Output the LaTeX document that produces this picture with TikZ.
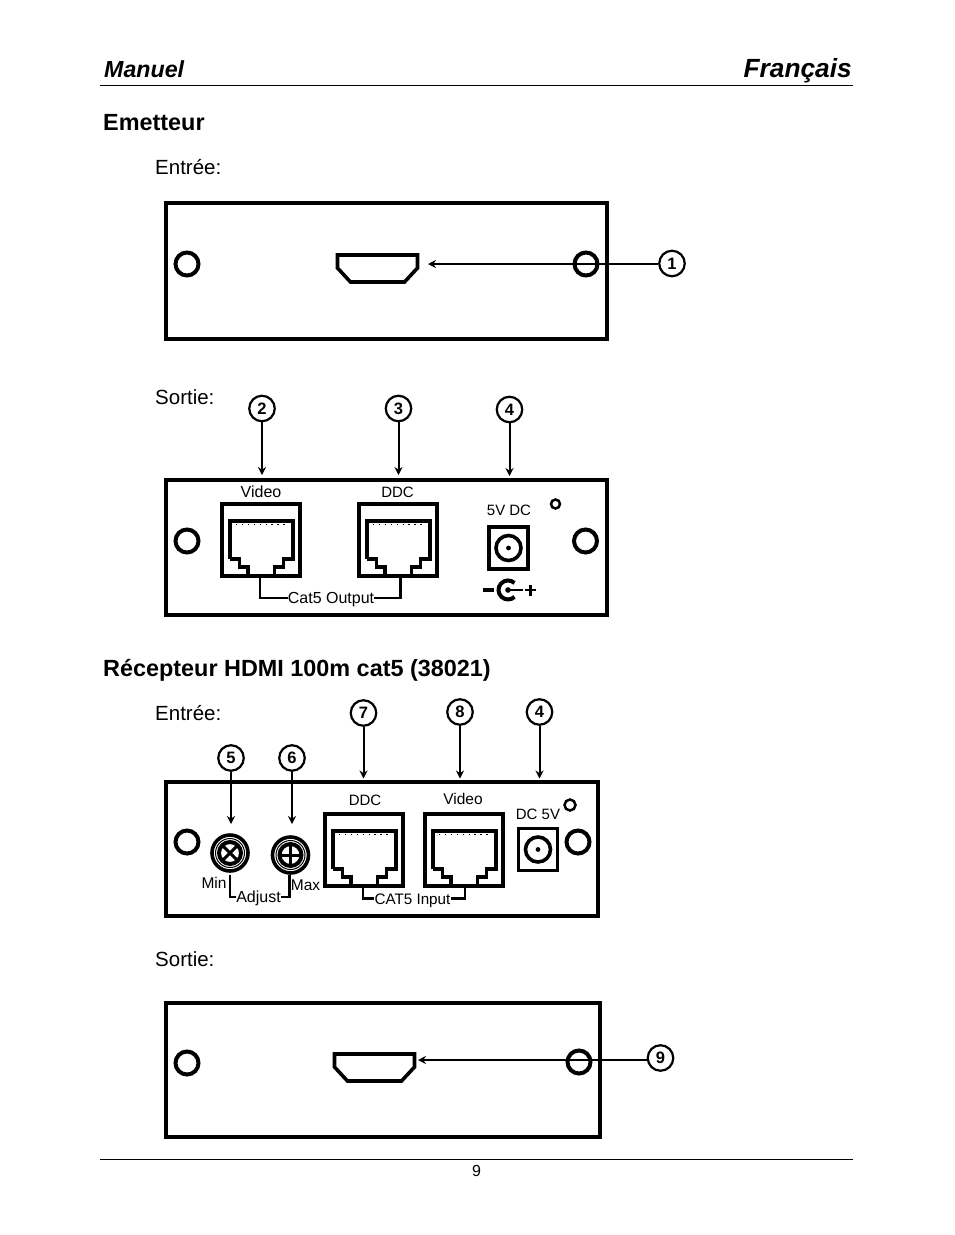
\documentclass[tikz,border=0pt]{standalone}
\usepackage{fontspec}
\setmainfont{Liberation Sans}
\usetikzlibrary{arrows.meta,calc}
\newcommand{\fsz}[1]{\fontsize{#1}{#1}\selectfont}
\tikzset{
 x=1pt,y=-1pt,
 panel/.style={draw=black,line width=4pt,fill=white,inner sep=0pt,outer sep=0pt},
 hole/.style={circle,draw=black,line width=4pt,fill=white,minimum size=23pt,inner sep=0pt},
 led/.style={circle,draw=black,line width=2.5pt,fill=white,inner sep=0pt},
 callout/.style={circle,draw=black,line width=2.2pt,fill=white,minimum size=25.5pt,inner sep=0pt,font=\fsz{16.5}\bfseries},
 arrowline/.style={line width=2pt,-{Stealth[length=8pt,width=8pt]}},
 body/.style={inner sep=0pt,anchor=base west,font=\fsz{20.5}},
 head/.style={inner sep=0pt,anchor=base west,font=\fsz{23.4}\bfseries},
 lab/.style={inner sep=0pt,font=\fsz{16}},
 brlab/.style={lab,text height=11.5pt,text depth=0pt},
 rjbox/.style={draw=black,line width=4pt,fill=white,inner sep=0pt,minimum width=78pt,minimum height=72pt},
 brk/.style={line width=2.6pt,line cap=butt},
 jackbox/.style={draw=black,line width=3.8pt,fill=white,inner sep=0pt,minimum width=39pt,minimum height=42pt},
 hdmi/.style={line width=3.6pt,line join=miter},
}
% name, x left, y top of the stroke-centre box
\newcommand{\rjfort}[3]{%
 \node[rjbox] (#1) at (#2+39,#3+36) {};
 \begin{scope}[shift={(#2,#3)}]
  \draw[line width=3.8pt,line join=miter] (8,55) -- (8,17) -- (71,17) -- (71,55) -- (61.5,55) -- (61.5,63) -- (52.5,63) -- (52.5,72)
     (8,55) -- (17.5,55) -- (17.5,63) -- (26,63) -- (26,72);
  \draw[line width=1.2pt,dash pattern=on 1.4pt off 4.5pt] (14,20.8) -- (66,20.8);
 \end{scope}}
% name, x, y: jack centre
\newcommand{\jackdc}[3]{%
 \node[jackbox] (#1) at (#2,#3) {};
 \draw[line width=3.6pt,fill=white] (#2,#3) circle[radius=12.5];
 \fill (#2,#3) circle[radius=2.4];}
% name, x, y, x and y offset of the arrow tip
\newcommand{\hdmiport}[5]{%
 \begin{scope}[shift={(#2,#3)}]
  \draw[hdmi] (0,0) -- (80,0) -- (80,13) -- (67,27) -- (13,27) -- (0,13) -- cycle;
  \coordinate (#1) at (#4,#5);
 \end{scope}}
\newcommand{\knob}[2]{%
 \draw[line width=3.6pt,fill=white] (#1) circle[radius=18];
 \draw[line width=1pt] (#1) circle[radius=14.5];
 \draw[line width=4pt,fill=white] (#1) circle[radius=11];
 \begin{scope}[shift={(#1)},rotate=#2]
  \draw[line width=3pt] (-10,0) -- (10,0) (0,-10) -- (0,10);
 \end{scope}}
\begin{document}
\begin{tikzpicture}
\useasboundingbox (0,0) rectangle (954,1235);
\fill[white] (0,0) rectangle (954,1235);

% page header and footer
\node[inner sep=0pt,anchor=base west,font=\fsz{23.2}\bfseries\itshape] (manuel) at (104,77) {Manuel};
\node[inner sep=0pt,anchor=base east,font=\fsz{26.3}\bfseries\itshape] (fr) at (852,77) {Français};
\coordinate (hl) at (100,85.5); \coordinate (hr) at (853,85.5);
\draw[line width=1pt] (hl) -- (hr);
\coordinate (fl) at (100,1159.5); \coordinate (fr2) at (853,1159.5);
\draw[line width=1pt] (fl) -- (fr2);
\node[inner sep=0pt,anchor=base,font=\fsz{16}] (pg) at (476.5,1176) {9};

\node[head] (h1) at (103,130) {Emetteur};
\node[body] (t1) at (155,174) {Entrée:};
\node[body] (t2) at (155,404) {Sortie:};
\node[head] (h2) at (103,676) {Récepteur HDMI 100m cat5 (38021)};
\node[body] (t3) at (155,720) {Entrée:};
\node[body] (t4) at (155,966) {Sortie:};

% panel 1
\node[panel,minimum width=441pt,minimum height=136pt] (p1) at (386.5,271) {};
\node[hole] (p1a) at (187,264) {};
\node[hole] (p1b) at (586,264) {};
\hdmiport{h1p}{337.5}{255}{90.5}{9}
\node[callout] (c1) at (672,263.5) {1};
\coordinate (s1) at (h1p -| c1.west);
\draw[arrowline] (s1) -- (h1p);

% panel 2
\node[panel,minimum width=441pt,minimum height=135pt] (p2) at (386.5,547.5) {};
\node[hole] (p2a) at (187,541) {};
\node[hole] (p2b) at (585.5,541) {};
\rjfort{vid}{222}{504}
\rjfort{ddc}{359}{504}
\node[lab] (vidl) at (261,491.5) {Video};
\node[lab,font=\fsz{15}] (ddcl) at (397.5,492.5) {DDC};
\node[lab,font=\fsz{15}] (dcl) at (509,510) {5V DC};
\node[led,minimum size=9pt] (l2) at (555.5,504) {};
\jackdc{j2}{508.5}{548}
\node[brlab] (cat) at (331,598) {Cat5 Output};
\coordinate (b1) at (260,578); \coordinate (b2) at (400.5,578);
\draw[brk] (cat.west) -| (b1);
\draw[brk] (cat.east) -| (b2);
% polarity symbol
\coordinate (sym) at (508,590);
\draw[line width=3.4pt] ($(sym)+(-25,0)$) -- ($(sym)+(-14,0)$);
\draw[line width=4pt] ($(sym)+(6.5,-7)$) arc[start angle=-47,end angle=-313,radius=9.5];
\fill (sym) circle[radius=2.8];
\draw[line width=2.6pt] (sym) -- ($(sym)+(15,0)$);
\draw[line width=2.6pt] ($(sym)+(17,0)$) -- ($(sym)+(28,0)$) ($(sym)+(22.5,-5.5)$) -- ($(sym)+(22.5,5.5)$);

\node[callout] (c2) at (262,408.5) {2};
\node[callout] (c3) at (398.5,408.5) {3};
\node[callout] (c4) at (509.5,409.5) {4};
\coordinate (a2) at (262,475); \coordinate (a3) at (398.5,475); \coordinate (a4) at (509.5,476);
\draw[arrowline] (c2) -- (a2);
\draw[arrowline] (c3) -- (a3);
\draw[arrowline] (c4) -- (a4);

% panel 3
\node[panel,minimum width=432pt,minimum height=134pt] (p3) at (382,849) {};
\node[hole] (p3a) at (187,842) {};
\node[hole] (p3b) at (578,842) {};
\coordinate (k1) at (230,853); \coordinate (k2) at (290.5,855);
\knob{k1}{45}
\knob{k2}{0}
\rjfort{ddcb}{325}{814}
\rjfort{vidb}{425}{814}
\node[lab,font=\fsz{15}] (ddcbl) at (365,800) {DDC};
\node[lab,font=\fsz{15.5}] (vidbl) at (463,799) {Video};
\node[lab,font=\fsz{15}] (dcbl) at (538,814) {DC 5V};
\node[led,minimum size=11pt] (l3) at (570,805) {};
\jackdc{j3}{538}{849.5}
\node[lab,font=\fsz{15.5}] (minl) at (214,883) {Min};
\node[lab,font=\fsz{15.5}] (maxl) at (305.5,885) {Max};
\node[brlab] (adj) at (258.5,897) {Adjust};
\coordinate (k1b) at (230,875); \coordinate (k2b) at (289.5,875);
\draw[brk] (adj.west) -| (k1b);
\draw[brk] (adj.east) -| (k2b);
\node[brlab,font=\fsz{15.2}] (inp) at (412.5,898.5) {CAT5 Input};
\coordinate (d1) at (363,888); \coordinate (d2) at (465,888);
\draw[brk] (inp.west) -| (d1);
\draw[brk] (inp.east) -| (d2);

\node[callout] (c5) at (231,758) {5};
\node[callout] (c6) at (292,758) {6};
\node[callout] (c7) at (363.5,713) {7};
\node[callout] (c8) at (460,712) {8};
\node[callout] (c4b) at (539.5,712) {4};
\coordinate (a5) at (231,824); \coordinate (a6) at (292,824);
\coordinate (a7) at (363.5,778.5); \coordinate (a8) at (460,778.5); \coordinate (a4b) at (539.5,778.5);
\draw[arrowline] (c5) -- (a5);
\draw[arrowline] (c6) -- (a6);
\draw[arrowline] (c7) -- (a7);
\draw[arrowline] (c8) -- (a8);
\draw[arrowline] (c4b) -- (a4b);

% panel 4
\node[panel,minimum width=434pt,minimum height=134pt] (p4) at (383,1070) {};
\node[hole] (p4a) at (187,1063) {};
\node[hole] (p4b) at (579,1062) {};
\hdmiport{h4p}{334.5}{1054}{83.5}{6}
\node[callout] (c9) at (660.5,1058) {9};
\coordinate (s9) at (h4p -| c9.west);
\draw[arrowline] (s9) -- (h4p);
\end{tikzpicture}
\end{document}
